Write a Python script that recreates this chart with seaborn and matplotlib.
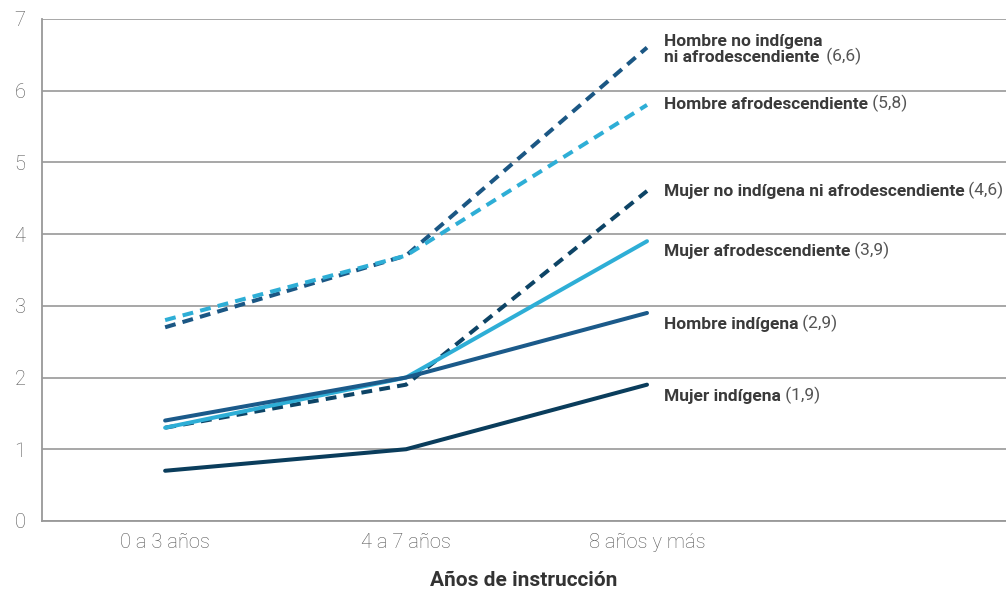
import pandas as pd
import matplotlib
matplotlib.use('Agg')
import matplotlib.pyplot as plt
import seaborn as sns

# Data
categorias = ['0 a 3 años', '4 a 7 años', '8 años y más']
series = [
    'Hombre no indígena\nni afrodescendiente',
    'Hombre afrodescendiente',
    'Mujer no indígena ni afrodescendiente',
    'Mujer afrodescendiente',
    'Hombre indígena',
    'Mujer indígena',
]
hombre_no_ind = [2.7, 3.7, 6.6]
hombre_afro = [2.8, 3.7, 5.8]
mujer_no_ind = [1.3, 1.9, 4.6]
mujer_afro = [1.3, 2.0, 3.9]
hombre_ind = [1.4, 2.0, 2.9]
mujer_ind = [0.7, 1.0, 1.9]
valores = [hombre_no_ind, hombre_afro, mujer_no_ind, mujer_afro, hombre_ind, mujer_ind]
etiquetas_valor = ['(6,6)', '(5,8)', '(4,6)', '(3,9)', '(2,9)', '(1,9)']

# Styles
colores = ['#1b5784', '#2eaed6', '#0d4466', '#2eaed6', '#1b5a8a', '#0a3d5c']
guiones = [(2.7, 1.8), (2.7, 1.8), (2.7, 1.8), '', '', '']
offset_etiqueta = [-0.03, 0.0, 0.0, -0.14, -0.16, -0.16]

rows = []
for s, vals in zip(series, valores):
    for c, v in zip(categorias, vals):
        rows.append({'serie': s, 'cat': c, 'valor': v})
df = pd.DataFrame(rows)

sns.set_style('white')
plt.rcParams['font.family'] = ['Roboto', 'DejaVu Sans']

fig = plt.figure(figsize=(10.06, 5.89), dpi=100)
ax = fig.add_axes([0.042, 0.1155, 0.958, 0.8525])

for s, col, dash in zip(series, colores, guiones):
    sub = df[df['serie'] == s]
    line_kws = {'dashes': dash} if dash else {}
    sns.lineplot(data=sub, x='cat', y='valor', color=col, linewidth=2.9,
                 ax=ax, sort=False, **line_kws)

ax.set_ylim(0, 7)
ax.set_xlim(-0.51, 3.49)
ax.set_yticks(range(0, 8))
ax.yaxis.grid(True, color='#a0a0a0', linewidth=1.3)
ax.set_axisbelow(True)
ax.tick_params(axis='both', length=0, labelsize=14.5, labelcolor='#555555')
for lab in ax.get_xticklabels() + ax.get_yticklabels():
    lab.set_fontweight('light')
ax.tick_params(axis='y', pad=12)
ax.tick_params(axis='x', pad=9)
for sp in ['top', 'right']:
    ax.spines[sp].set_visible(False)
for sp in ['left', 'bottom']:
    ax.spines[sp].set_color('#999999')
    ax.spines[sp].set_linewidth(1.3)

ax.set_ylabel('')
ax.set_xlabel('Años de instrucción', fontsize=15, fontweight='bold',
              color='#333333', labelpad=13)

for s, vals, ev, off in zip(series, valores, etiquetas_valor, offset_etiqueta):
    t = ax.text(2.07, vals[-1] + off, s, fontsize=12.5, fontweight='bold',
                color='#3a3a3a', va='center', ha='left', linespacing=1.1)
    ax.annotate(' ' + ev, xy=(1, 0), xycoords=t, va='bottom', ha='left',
                fontsize=12.5, color='#555555')

fig.savefig('out.png', dpi=100)
